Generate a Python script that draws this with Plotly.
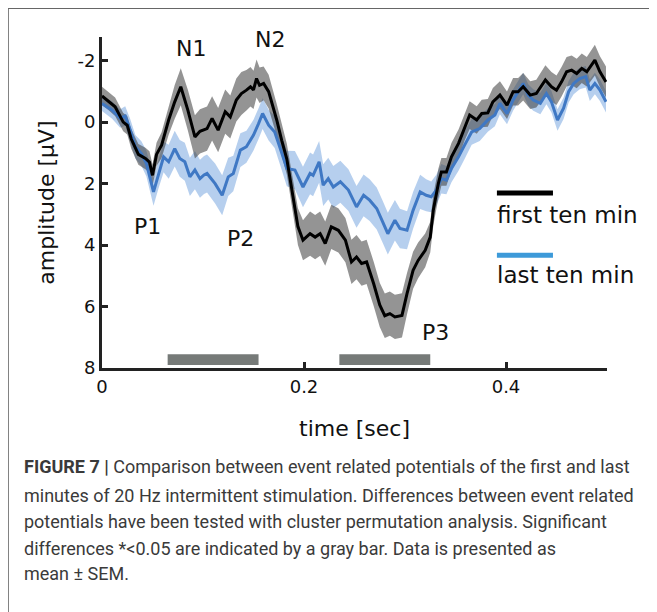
import plotly.graph_objects as go

# ---------------- data ----------------
t_first = [0.000, 0.006, 0.013, 0.021, 0.025, 0.029, 0.036, 0.043, 0.047, 0.050,
           0.054, 0.059, 0.066, 0.072, 0.078, 0.085, 0.092, 0.097, 0.104, 0.109,
           0.115, 0.122, 0.127, 0.133, 0.138, 0.143, 0.147, 0.150, 0.153, 0.156,
           0.160, 0.165, 0.173, 0.178, 0.183, 0.189, 0.194, 0.199, 0.206, 0.211,
           0.216, 0.221, 0.227, 0.234, 0.241, 0.247, 0.252, 0.257, 0.262, 0.269,
           0.275, 0.280, 0.285, 0.290, 0.297, 0.302, 0.308, 0.313, 0.320, 0.325,
           0.328, 0.333, 0.336, 0.341, 0.346, 0.353, 0.359, 0.364, 0.371, 0.376,
           0.382, 0.387, 0.394, 0.401, 0.407, 0.412, 0.417, 0.424, 0.430, 0.439,
           0.445, 0.450, 0.455, 0.460, 0.465, 0.470, 0.475, 0.480, 0.488, 0.493,
           0.499]
v_first = [-0.85, -0.70, -0.50, 0.00, 0.10, 0.55, 1.05, 1.18, 1.30, 1.73,
           1.05, 0.75, -0.07, -0.66, -1.15, -0.39, 0.48, 0.30, 0.21, -0.12,
           0.26, -0.34, -0.17, -0.72, -0.93, -1.04, -1.15, -1.05, -1.42, -1.20,
           -1.26, -0.99, -0.07, 0.60, 1.20, 2.40, 3.40, 3.84, 3.63, 3.74,
           3.63, 3.95, 3.41, 3.52, 3.84, 4.55, 4.39, 4.60, 4.55, 5.26,
           5.95, 6.30, 6.23, 6.34, 6.29, 5.58, 4.82, 4.50, 4.17, 3.74,
           2.87, 2.00, 1.62, 1.62, 1.13, 0.69, 0.15, -0.23, -0.07, -0.28,
           -0.30, -0.66, -0.88, -0.55, -0.99, -0.99, -1.15, -0.88, -0.93, -1.37,
           -1.15, -1.04, -1.31, -1.64, -1.69, -1.58, -1.75, -1.64, -2.02, -1.64,
           -1.31]
sem_first = [0.30, 0.30, 0.30, 0.30, 0.30, 0.32, 0.34, 0.35, 0.35, 0.35,
             0.38, 0.42, 0.48, 0.55, 0.60, 0.66, 0.70, 0.72, 0.72, 0.72,
             0.72, 0.72, 0.70, 0.70, 0.70, 0.66, 0.64, 0.62, 0.62, 0.58,
             0.55, 0.55, 0.52, 0.50, 0.50, 0.55, 0.60, 0.65, 0.72, 0.72,
             0.72, 0.72, 0.72, 0.72, 0.72, 0.72, 0.72, 0.72, 0.72, 0.72,
             0.72, 0.72, 0.72, 0.72, 0.72, 0.67, 0.60, 0.58, 0.55, 0.50,
             0.50, 0.48, 0.45, 0.45, 0.45, 0.45, 0.45, 0.45, 0.45, 0.45,
             0.45, 0.45, 0.45, 0.45, 0.45, 0.45, 0.45, 0.45, 0.45, 0.48,
             0.48, 0.48, 0.48, 0.48, 0.48, 0.48, 0.48, 0.48, 0.50, 0.50,
             0.50]

t_last = [0.000, 0.010, 0.018, 0.023, 0.028, 0.033, 0.039, 0.044, 0.051, 0.056,
          0.061, 0.066, 0.072, 0.077, 0.082, 0.087, 0.092, 0.097, 0.101, 0.104,
          0.112, 0.119, 0.125, 0.130, 0.137, 0.143, 0.150, 0.155, 0.159, 0.165,
          0.171, 0.177, 0.183, 0.191, 0.199, 0.206, 0.209, 0.215, 0.219, 0.224,
          0.229, 0.236, 0.244, 0.252, 0.259, 0.265, 0.272, 0.278, 0.283, 0.290,
          0.295, 0.302, 0.308, 0.315, 0.321, 0.326, 0.331, 0.336, 0.341, 0.346,
          0.353, 0.359, 0.366, 0.374, 0.382, 0.389, 0.394, 0.401, 0.407, 0.412,
          0.417, 0.422, 0.427, 0.434, 0.440, 0.445, 0.451, 0.457, 0.462, 0.467,
          0.473, 0.479, 0.483, 0.488, 0.493, 0.499]
v_last = [-0.61, -0.39, -0.12, -0.20, 0.26, 0.80, 1.02, 1.35, 2.27, 1.67,
          1.13, 1.29, 0.86, 1.18, 1.29, 1.78, 1.56, 1.84, 1.72, 1.67,
          2.00, 2.38, 1.78, 1.67, 0.91, 0.80, 0.42, 0.05, -0.28, 0.10,
          0.32, 0.91, 1.51, 1.56, 2.11, 1.67, 1.73, 1.29, 2.05, 1.84,
          2.11, 1.94, 2.21, 2.76, 2.38, 2.54, 2.81, 3.25, 3.63, 3.19,
          3.46, 3.52, 2.87, 2.27, 2.38, 2.43, 2.21, 1.84, 1.89, 1.51,
          1.13, 0.75, 0.32, 0.21, -0.07, -0.23, -0.61, -0.28, -0.72, -0.99,
          -1.26, -0.88, -0.72, -0.61, -0.93, -0.66, -0.07, -0.45, -0.99, -1.26,
          -1.42, -1.48, -1.04, -1.26, -1.04, -0.66]
sem_last = [0.25, 0.28, 0.30, 0.32, 0.35, 0.38, 0.40, 0.42, 0.45, 0.48,
            0.50, 0.55, 0.58, 0.60, 0.62, 0.62, 0.62, 0.62, 0.62, 0.62,
            0.65, 0.65, 0.62, 0.58, 0.55, 0.52, 0.50, 0.50, 0.50, 0.50,
            0.52, 0.55, 0.58, 0.62, 0.66, 0.68, 0.68, 0.68, 0.68, 0.68,
            0.68, 0.68, 0.68, 0.68, 0.68, 0.68, 0.68, 0.68, 0.68, 0.66,
            0.64, 0.62, 0.60, 0.56, 0.52, 0.50, 0.50, 0.48, 0.46, 0.45,
            0.45, 0.45, 0.42, 0.40, 0.38, 0.36, 0.35, 0.35, 0.35, 0.35,
            0.35, 0.35, 0.35, 0.35, 0.35, 0.35, 0.35, 0.35, 0.35, 0.35,
            0.35, 0.35, 0.35, 0.35, 0.35, 0.35]

# significant clusters (gray bars)
sig_start = [0.065, 0.235]
sig_end = [0.155, 0.325]
sig_bar_bottom = 7.9
sig_bar_top = 7.55

peak_names = ["N1", "N2", "P1", "P2", "P3"]
peak_t = [0.088, 0.166, 0.045, 0.137, 0.330]
peak_v = [-2.38, -2.70, 3.39, 3.78, 6.84]

y_ticks = [-2, 0, 2, 4, 6, 8]
y_tick_text = ["-2", "0", "2", "4", "6", "8"]
x_ticks = [0, 0.2, 0.4]
x_tick_text = ["0", "0.2", "0.4"]

legend_names = ["first ten min", "last ten min"]

caption_lines = [
    "<b>FIGURE 7 |</b> Comparison between event related potentials of the first and last",
    "minutes of 20 Hz intermittent stimulation. Differences between event related",
    "potentials have been tested with cluster permutation analysis. Significant",
    "differences *<0.05 are indicated by a gray bar. Data is presented as",
    "mean ± SEM.",
]

# ---------------- figure ----------------
BLACK = "#000000"
BLUE = "#3f78c4"
BLUE_LEG = "#3d9ad9"
GRAY_BAND = "rgba(60,60,60,0.55)"
BLUE_BAND = "rgba(80,140,215,0.42)"
FONT = "DejaVu Sans"

fig = go.Figure()


def band(t, v, s, color):
    up = [a - b for a, b in zip(v, s)]
    lo = [a + b for a, b in zip(v, s)]
    return go.Scatter(x=t + t[::-1], y=up + lo[::-1], fill="toself",
                      fillcolor=color, line=dict(width=0), mode="lines",
                      hoverinfo="skip", showlegend=False)


fig.add_trace(band(t_last, v_last, sem_last, BLUE_BAND))
fig.add_trace(band(t_first, v_first, sem_first, GRAY_BAND))
fig.add_trace(go.Scatter(x=t_last, y=v_last, mode="lines", name=legend_names[1],
                         line=dict(color=BLUE, width=3), showlegend=False))
fig.add_trace(go.Scatter(x=t_first, y=v_first, mode="lines", name=legend_names[0],
                         line=dict(color=BLACK, width=3), showlegend=False))

for a, b in zip(sig_start, sig_end):
    fig.add_shape(type="rect", xref="x", yref="y", x0=a, x1=b,
                  y0=sig_bar_bottom, y1=sig_bar_top,
                  fillcolor="#767a78", line=dict(width=0), layer="above")

for name, tx, vy in zip(peak_names, peak_t, peak_v):
    fig.add_annotation(x=tx, y=vy, xref="x", yref="y", text=name, showarrow=False,
                       font=dict(family=FONT, size=22, color="#111"))

# legend drawn as line segments + text (line above the label)
leg_colors = [BLACK, BLUE_LEG]
leg_line_y = [0.529, 0.341]
leg_text_y = [0.463, 0.282]
for name, col, ly, ty in zip(legend_names, leg_colors, leg_line_y, leg_text_y):
    fig.add_shape(type="line", xref="paper", yref="paper", x0=0.782, x1=0.893,
                  y0=ly, y1=ly, line=dict(color=col, width=5))
    fig.add_annotation(x=0.778, y=ty, xref="paper", yref="paper", text=name,
                       showarrow=False, xanchor="left", yanchor="middle",
                       font=dict(family=FONT, size=23, color="#111"))

# outer frame (top + left)
fig.add_shape(type="line", xref="paper", yref="paper", x0=-0.186, x1=1.2,
              y0=1.087, y1=1.087, line=dict(color="#666", width=1.5))
fig.add_shape(type="line", xref="paper", yref="paper", x0=-0.186, x1=-0.186,
              y0=1.087, y1=-0.78, line=dict(color="#666", width=1.5))

cap_y = [-0.299, -0.385, -0.465, -0.544, -0.622]
for line_txt, cy in zip(caption_lines, cap_y):
    fig.add_annotation(x=-0.158, y=cy, xref="paper", yref="paper", text=line_txt,
                       showarrow=False, xanchor="left", yanchor="middle",
                       font=dict(family="Roboto", size=18, color="#3a3a3a"))

fig.update_layout(
    width=657, height=612,
    margin=dict(l=94, r=58, t=29, b=252, autoexpand=False),
    paper_bgcolor="white", plot_bgcolor="white",
    showlegend=False,
    font=dict(family=FONT, color="#111"),
)
fig.update_xaxes(range=[0, 0.5], showgrid=False, zeroline=False,
                 showline=True, linewidth=3, linecolor="#222",
                 ticks="inside", ticklen=6, tickwidth=3, tickcolor="#222",
                 tickvals=x_ticks, ticktext=x_tick_text,
                 tickfont=dict(family=FONT, size=18, color="#111"),
                 title=dict(text="time [sec]", standoff=26,
                            font=dict(family=FONT, size=22, color="#111")))
fig.update_yaxes(range=[8, -2.77], showgrid=False, zeroline=False,
                 showline=True, linewidth=3, linecolor="#222",
                 ticks="inside", ticklen=6, tickwidth=3, tickcolor="#222",
                 tickvals=y_ticks, ticktext=y_tick_text,
                 tickfont=dict(family=FONT, size=18, color="#111"),
                 title=dict(text="amplitude [μV]", standoff=17,
                            font=dict(family=FONT, size=22, color="#111")))

fig.write_html("out.html")
